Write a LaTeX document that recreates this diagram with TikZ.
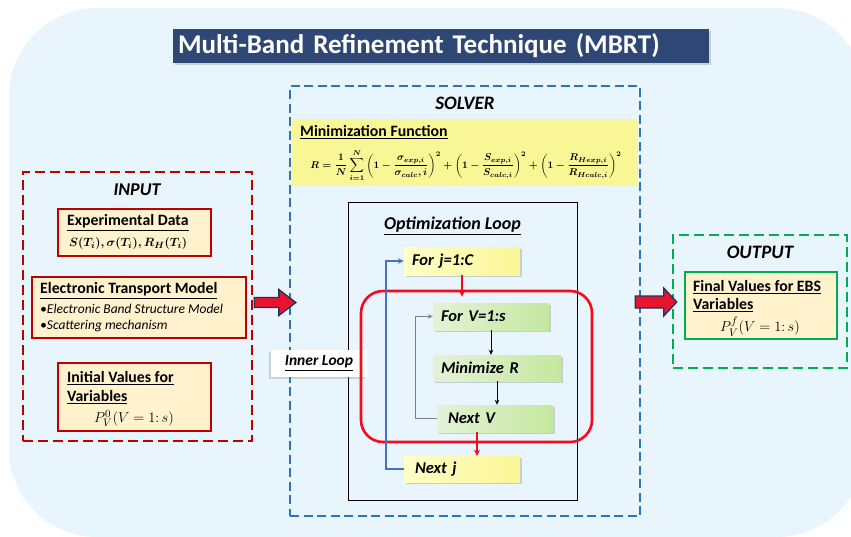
\documentclass[tikz,border=0pt]{standalone}
\usepackage{amsmath}
\usepackage{fontspec}
\setmainfont{Carlito}
\usetikzlibrary{calc,shadows,arrows.meta}

\definecolor{bgblue}{RGB}{232,245,252}
\definecolor{titlenavy}{RGB}{47,71,117}
\definecolor{inred}{RGB}{192,0,0}
\definecolor{peach}{RGB}{255,242,204}
\definecolor{solverblue}{RGB}{46,117,182}
\definecolor{mfyellow}{RGB}{249,246,150}
\definecolor{outgreen}{RGB}{0,176,80}
\definecolor{looprd}{RGB}{245,10,30}
\definecolor{loopblue}{RGB}{68,114,196}
\definecolor{arrred}{RGB}{232,20,45}
\definecolor{arrnavy}{RGB}{31,50,100}
\definecolor{yelA}{RGB}{255,255,200}
\definecolor{yelB}{RGB}{250,245,150}
\definecolor{grnA}{RGB}{228,242,214}
\definecolor{grnB}{RGB}{196,232,160}

\newcommand{\ul}[1]{\underline{#1}}
% bold formulas are set once in boxes
\newsavebox{\Rbox}
\newsavebox{\Tbox}
\newcommand{\parterm}[2]{\left(1-\frac{#1}{#2}\right)^{2}}

\begin{document}
\sbox{\Rbox}{\fontsize{9.8}{12}\selectfont\boldmath$\displaystyle R=\frac{1}{N}\sum_{i=1}^{N}\parterm{\sigma_{exp,i}}{\sigma_{calc},i}+\parterm{S_{exp,i}}{S_{calc,i}}+\parterm{R_{Hexp,i}}{R_{Hcalc,i}}$}%
\sbox{\Tbox}{\fontsize{12.3}{15}\selectfont\boldmath$S(T_i),\sigma(T_i),R_H(T_i)$}%
\begin{tikzpicture}[x=1pt,y=-1pt,
  area/.style={draw, dash pattern=on 9pt off 4.5pt, line width=2.3pt, inner sep=0pt},
  peachbox/.style={draw, fill=peach, line width=2.6pt, inner sep=0pt},
  heading/.style={font=\fontsize{19}{22}\selectfont\bfseries\itshape, inner sep=0pt},
  boxhead/.style={font=\fontsize{15.8}{18}\selectfont\bfseries, anchor=west, inner sep=0pt},
  bullet/.style={font=\fontsize{13.5}{16}\selectfont\itshape, anchor=west, inner sep=0pt},
  pform/.style={font=\fontsize{15}{18}\selectfont, inner sep=0pt},
  flowbox/.style={font=\fontsize{16.5}{19}\selectfont\bfseries\itshape, align=left,
    inner ysep=0pt, draw=none,
    drop shadow={opacity=0.35, shadow xshift=2pt, shadow yshift=-2pt}},
  yflow/.style={flowbox, left color=yelA, right color=yelB},
  gflow/.style={flowbox, left color=grnA, right color=grnB},
  redarrow/.style={-{Stealth[length=6pt,width=6pt]}, draw=looprd, line width=1.6pt},
  thinarrow/.style={-{Stealth[length=5pt,width=4.5pt]}, line width=0.7pt},
  blockarrow/.style={fill=arrred, draw=arrnavy, line width=1.3pt, line join=miter}
]
\useasboundingbox (0,0) rectangle (851,536);

% background panel
\fill[bgblue, rounded corners=88pt] (9,8) rectangle (865,537);

% title banner
\node[fill=titlenavy, text=white, text width=526pt, align=left, inner xsep=5pt, inner ysep=0pt, minimum height=34pt, font=\fontsize{27}{30}\selectfont\bfseries, drop shadow={opacity=0.3, shadow xshift=1.5pt, shadow yshift=-1.5pt}] (title) at (441,46) {Multi-Band Refinement Technique (MBRT)};

% ---------- SOLVER ----------
\node[area, draw=solverblue, minimum width=350pt, minimum height=430pt] (solver) at (465,301) {};
\node[heading] (solverlbl) at (465,103) {SOLVER};
\node[fill=mfyellow, minimum width=346pt, minimum height=67pt, inner sep=0pt] (minfun) at (465,152.5) {};
\node[boxhead] (minfunlbl) at (300,132.5) {\ul{Minimization Function}};
\node[inner sep=0pt] (objfun) at (466,165.5) {\usebox{\Rbox}};

% optimization loop frame
\node[draw=black, line width=1pt, minimum width=229pt, minimum height=298pt, inner sep=0pt] (optloop) at (462.5,351) {};
\node[font=\fontsize{18}{21}\selectfont\bfseries\itshape, inner sep=0pt] (optlbl) at (452.5,226) {\ul{Optimization Loop}};

% inner loop tag
\node[fill=white, minimum width=96pt, minimum height=27pt, inner sep=0pt, font=\fontsize{15.5}{18}\selectfont\bfseries\itshape, drop shadow={opacity=0.3, shadow xshift=-2pt, shadow yshift=-1.5pt}] (inner) at (319,363.5) {\ul{Inner Loop}};

% inner red loop
\node[draw=looprd, line width=2.6pt, rounded corners=22pt, minimum width=231pt, minimum height=151pt, inner sep=0pt] (redloop) at (476.5,366.5) {};

% loop steps
\node[yflow, text width=100pt, inner xsep=8pt, minimum height=28pt] (forj) at (462,261) {For j=1:C};
\node[gflow, text width=100pt, inner xsep=8pt, minimum height=27pt] (forv) at (491,316.5) {For V=1:s};
\node[gflow, text width=112pt, inner xsep=8pt, minimum height=26pt] (minr) at (497,368) {Minimize R};
\node[gflow, text width=94pt, inner xsep=11pt, minimum height=27pt] (nextv) at (495,418.5) {Next V};
\node[yflow, text width=94pt, inner xsep=11pt, minimum height=26pt] (nextj) at (462,469) {Next j};

% step connectors
\draw[redarrow] (forj.south) -- ($(forj.south |- redloop.north)+(0,7)$);
\coordinate (nvout) at ($(nextv.south)+(-18,0)$);
\draw[redarrow] (nvout) -- (nvout |- nextj.north);
\draw[thinarrow] (forv.south) -- (forv.south |- minr.north);
\draw[thinarrow] (minr.south) -- (minr.south |- nextv.north);
\draw[thinarrow, draw=gray] (nextv.west) -- ++(-21,0) |- (forv.west);
\draw[-{Stealth[length=6pt,width=5.5pt]}, draw=loopblue, line width=1.5pt] (nextj.west) -- ++(-18,0) |- (forj.west);

% ---------- INPUT ----------
\node[area, draw=inred, line width=2.5pt, dash pattern=on 10pt off 5pt, minimum width=229pt, minimum height=269pt] (inbox) at (137.5,306.5) {};
\node[heading, font=\fontsize{18}{21}\selectfont\bfseries\itshape] (inlbl) at (137,190) {INPUT};

\node[peachbox, draw=inred, minimum width=153pt, minimum height=47pt] (expdata) at (134.5,232.5) {};
\node[boxhead] (expt) at (67,223) {\ul{Experimental Data}};
\node[boxhead] (expf) at (69,243.5) {\usebox{\Tbox}};

\node[peachbox, draw=inred, minimum width=214pt, minimum height=61pt] (etm) at (139,307.5) {};
\node[boxhead] (etmt) at (40,291) {\ul{Electronic Transport Model}};
\node[bullet] (etmb1) at (40,309) {•Electronic Band Structure Model};
\node[bullet] (etmb2) at (40,326) {•Scattering mechanism};

\node[peachbox, draw=inred, minimum width=153pt, minimum height=68pt] (initval) at (134.5,397) {};
\node[boxhead] (initt1) at (67,378) {\ul{Initial Values for}};
\node[boxhead] (initt2) at (67,397.5) {\ul{Variables}};
\node[pform] (initf) at (134,418.5) {$P_V^{0}(V=1{:}\,s)$};

% ---------- OUTPUT ----------
\node[area, draw=outgreen, line width=2.5pt, dash pattern=on 10pt off 5pt, minimum width=174pt, minimum height=133pt] (outbox) at (760,301.5) {};
\node[heading] (outlbl) at (760,252) {OUTPUT};
\node[peachbox, draw=outgreen, minimum width=152pt, minimum height=67pt] (finalval) at (761,305.5) {};
\node[boxhead] (fint1) at (693,287) {\ul{Final Values for EBS}};
\node[boxhead] (fint2) at (693,305) {\ul{Variables}};
\node[pform] (finf) at (760,326.5) {$P_V^{f}(V=1{:}\,s)$};

% ---------- block arrows between stages ----------
\coordinate (aIn) at ($(inbox.east)+(1,-4)$);
\coordinate (aSol) at ($(solver.west)+(7,1.5)$);
\filldraw[blockarrow] ($(aIn)+(0,-5)$) -- ($(aSol)+(-17,-5)$) -- ($(aSol)+(-17,-13)$) -- (aSol) -- ($(aSol)+(-17,13)$) -- ($(aSol)+(-17,5)$) -- ($(aIn)+(0,5)$) -- cycle;

\coordinate (bSol) at ($(solver.east)+(-6,1)$);
\coordinate (bOut) at ($(outbox.west)+(5,0.5)$);
\filldraw[blockarrow] ($(bSol)+(0,-6)$) -- ($(bOut)+(-13,-6)$) -- ($(bOut)+(-13,-14)$) -- (bOut) -- ($(bOut)+(-13,14)$) -- ($(bOut)+(-13,6)$) -- ($(bSol)+(0,6)$) -- cycle;
\end{tikzpicture}
\end{document}
